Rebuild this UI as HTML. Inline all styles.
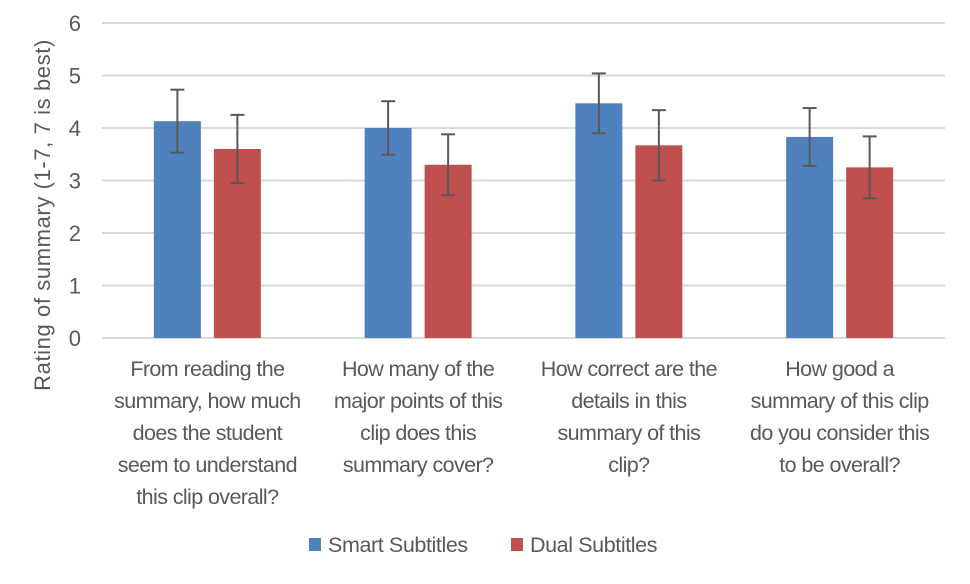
<!DOCTYPE html>
<html><head><meta charset="utf-8"><style>
body{margin:0;background:#fff;}
svg text{font-family:"Liberation Sans",sans-serif;fill:#595959;}
</style></head><body>
<svg width="970" height="579" xmlns="http://www.w3.org/2000/svg">
<g id="grid"></g><g id="bars"></g><g id="labels"></g>
<text transform="translate(50,215) rotate(-90)" text-anchor="middle" font-size="22" letter-spacing="0.6">Rating of summary (1-7, 7 is best)</text>
<g>
<rect x="309" y="538" width="12" height="13" fill="#4f81bd"/>
<text x="328" y="552" font-size="21.5" letter-spacing="-0.4">Smart Subtitles</text>
<rect x="511" y="538" width="12" height="13" fill="#c0504d"/>
<text x="530" y="552" font-size="21.5" letter-spacing="-0.4">Dual Subtitles</text>
</g>
</svg>
<script>
const categories=[["From reading the","summary, how much","does the student","seem to understand","this clip overall?"],["How many of the","major points of this","clip does this","summary cover?"],["How correct are the","details in this","summary of this","clip?"],["How good a","summary of this clip","do you consider this","to be overall?"]];
const smartValues=[4.13,4.0,4.47,3.83];
const smartErrors=[0.6,0.51,0.57,0.55];
const dualValues=[3.6,3.3,3.67,3.25];
const dualErrors=[0.65,0.58,0.67,0.59];
const yTicks=[0,1,2,3,4,5,6];
const NS="http://www.w3.org/2000/svg";
const x0=102,x1=945,yBase=338,yTop=23,yMax=6;
const band=(x1-x0)/categories.length;
function y(v){return yBase-(yBase-yTop)*v/yMax;}
function mk(t,a,p){const e=document.createElementNS(NS,t);for(const k in a)e.setAttribute(k,a[k]);p.appendChild(e);return e;}
const grid=document.getElementById('grid'),bars=document.getElementById('bars'),labels=document.getElementById('labels');
yTicks.forEach(t=>{
const l=mk('line',{x1:x0,x2:x1,y1:y(t),y2:y(t),stroke:'#d9d9d9','stroke-width':2},grid);


const tx=mk('text',{x:81,y:y(t)+8,'text-anchor':'end','font-size':22},grid);
tx.textContent=t;


});
const bw=47;
function drawBar(i,v,err,cx,color,name){
const r=mk('rect',{x:cx-bw/2,y:y(v),width:bw,height:yBase-y(v),fill:color},bars);


const g=mk('g',{stroke:'#595959','stroke-width':2},bars);


mk('line',{x1:cx,x2:cx,y1:y(v+err),y2:y(v-err)},g);
mk('line',{x1:cx-7,x2:cx+7,y1:y(v+err),y2:y(v+err)},g);
mk('line',{x1:cx-7,x2:cx+7,y1:y(v-err),y2:y(v-err)},g);
}
categories.forEach((c,i)=>{
const cx=x0+band*(i+0.5);
drawBar(i,smartValues[i],smartErrors[i],cx-30,'#4f81bd','smart');
drawBar(i,dualValues[i],dualErrors[i],cx+30,'#c0504d','dual');
const t=mk('text',{x:cx,'text-anchor':'middle','font-size':21.5,'letter-spacing':-0.6},labels);


c.forEach((line,j)=>{const s=mk('tspan',{x:cx,y:376+j*32},t);s.textContent=line;});
});
mk('line',{x1:x0,x2:x1,y1:yBase,y2:yBase,stroke:'#d9d9d9','stroke-width':2},grid);
</script>
</body></html>
